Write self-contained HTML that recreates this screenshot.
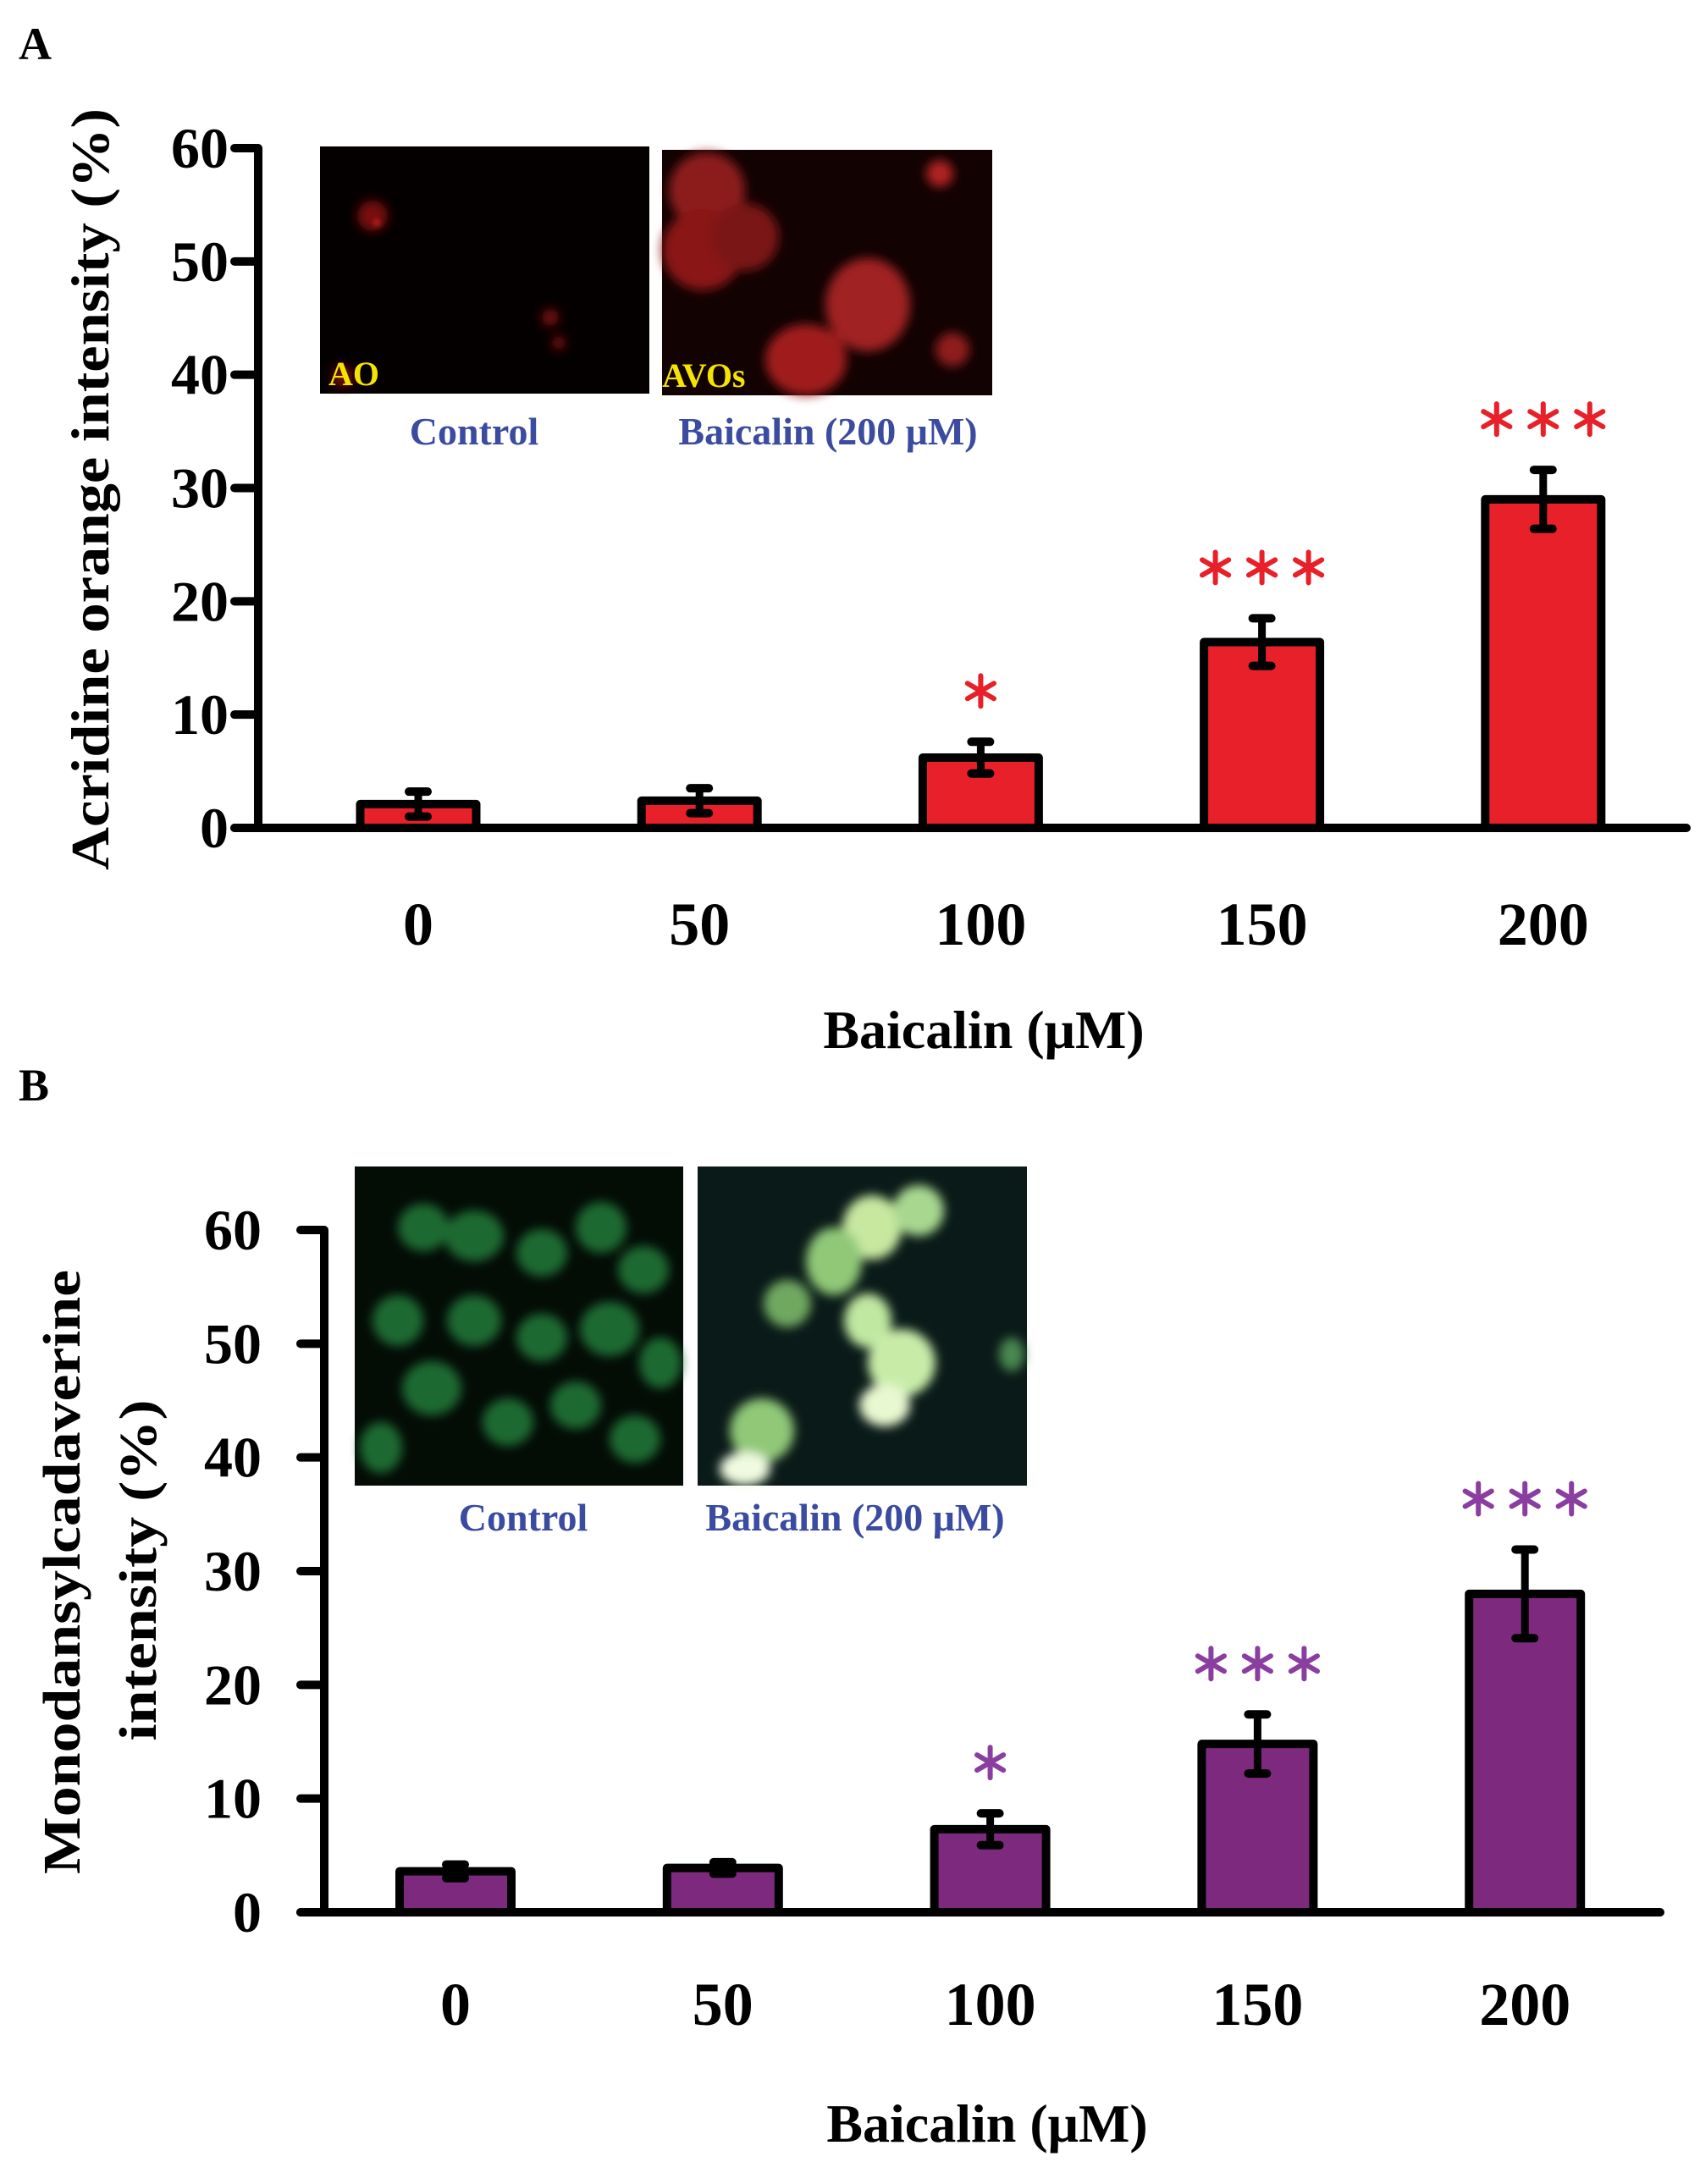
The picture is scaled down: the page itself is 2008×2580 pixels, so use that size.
<!DOCTYPE html>
<html><head><meta charset="utf-8">
<style>
html,body{margin:0;padding:0;background:#fff;}
svg{display:block;}
text{font-family:"Liberation Serif",serif;font-weight:bold;}
</style></head>
<body>
<svg id="fig" width="2008" height="2580" viewBox="0 0 2008 2580" xmlns="http://www.w3.org/2000/svg">
<defs>
<filter id="b6" x="-50%" y="-50%" width="200%" height="200%"><feGaussianBlur stdDeviation="6"/></filter>
<filter id="b3" x="-50%" y="-50%" width="200%" height="200%"><feGaussianBlur stdDeviation="3"/></filter>
</defs>
<rect width="2008" height="2580" fill="#fff"/>
<text x="22" y="70" font-size="54">A</text>
<text x="22" y="1300" font-size="54">B</text>

<!-- Panel A insets -->
<g>
<rect x="378" y="173" width="389" height="292" fill="#050000"/>
<g filter="url(#b6)" fill="#7a1010">
<circle cx="440" cy="255" r="18"/><circle cx="650" cy="375" r="10"/><circle cx="660" cy="405" r="8"/><circle cx="405" cy="445" r="12"/>
</g>
<circle cx="445" cy="263" r="4" fill="#c02020" filter="url(#b3)"/>
<text x="388" y="455" font-size="40" fill="#f5e400">AO</text>
</g>
<g>
<rect x="782" y="177" width="390" height="290" fill="#120202"/>
<g filter="url(#b6)">
<circle cx="835" cy="225" r="45" fill="#8c1a1a"/>
<circle cx="830" cy="295" r="48" fill="#8a1818"/>
<circle cx="880" cy="280" r="40" fill="#7a1515"/>
<ellipse cx="1025" cy="360" rx="50" ry="55" fill="#a02020"/>
<ellipse cx="952" cy="425" rx="48" ry="42" fill="#a01c1c"/>
<circle cx="1110" cy="205" r="16" fill="#b02424"/>
<circle cx="1125" cy="413" r="20" fill="#901c1c"/>
</g>
<text x="782" y="457" font-size="40" fill="#f5e400">AVOs</text>
</g>
<text x="560" y="525" font-size="46" fill="#3a4ba0" text-anchor="middle">Control</text>
<text x="978" y="525" font-size="46" fill="#3a4ba0" text-anchor="middle">Baicalin (200 μM)</text>

<!-- Panel B insets -->
<g>
<rect x="419" y="1378" width="388" height="377" fill="#040c06"/>
<g filter="url(#b6)" fill="#1f6a30">
<ellipse cx="500" cy="1450" rx="30" ry="28"/><ellipse cx="560" cy="1460" rx="35" ry="30"/><ellipse cx="640" cy="1480" rx="30" ry="28"/><ellipse cx="710" cy="1450" rx="30" ry="30"/><ellipse cx="760" cy="1500" rx="30" ry="28"/>
<ellipse cx="470" cy="1560" rx="30" ry="30"/><ellipse cx="560" cy="1560" rx="32" ry="30"/><ellipse cx="640" cy="1580" rx="30" ry="28"/><ellipse cx="720" cy="1570" rx="35" ry="32"/><ellipse cx="780" cy="1610" rx="25" ry="30"/>
<ellipse cx="510" cy="1640" rx="35" ry="32"/><ellipse cx="600" cy="1680" rx="30" ry="28"/><ellipse cx="680" cy="1660" rx="30" ry="28"/><ellipse cx="750" cy="1700" rx="30" ry="28"/><ellipse cx="450" cy="1710" rx="25" ry="30"/>
</g>
</g>
<g>
<rect x="824" y="1378" width="389" height="377" fill="#0a1a18"/>
<g filter="url(#b6)">
<ellipse cx="1030" cy="1450" rx="35" ry="38" fill="#c8e8a0"/>
<ellipse cx="1085" cy="1430" rx="30" ry="30" fill="#a8d890"/>
<ellipse cx="985" cy="1490" rx="33" ry="40" fill="#90c878"/>
<ellipse cx="1025" cy="1560" rx="28" ry="32" fill="#c0e8a0"/>
<ellipse cx="930" cy="1540" rx="28" ry="28" fill="#70a860"/>
<ellipse cx="1065" cy="1610" rx="40" ry="40" fill="#c8eca8"/>
<ellipse cx="1045" cy="1660" rx="30" ry="25" fill="#e8f8d0"/>
<ellipse cx="900" cy="1690" rx="38" ry="38" fill="#90c878"/>
<ellipse cx="880" cy="1735" rx="30" ry="20" fill="#f0fae0"/>
<ellipse cx="1195" cy="1600" rx="15" ry="20" fill="#4a8850"/>
</g>
</g>
<text x="618" y="1808" font-size="46" fill="#3a4ba0" text-anchor="middle">Control</text>
<text x="1010" y="1808" font-size="46" fill="#3a4ba0" text-anchor="middle">Baicalin (200 μM)</text>

<!-- titles -->
<text transform="translate(128,578) rotate(-90)" font-size="64" text-anchor="middle" textLength="900" lengthAdjust="spacingAndGlyphs">Acridine orange intensity (%)</text>
<text x="1162" y="1238" font-size="64" text-anchor="middle">Baicalin (μM)</text>
<text transform="translate(94,1857) rotate(-90)" font-size="62" text-anchor="middle" textLength="714" lengthAdjust="spacingAndGlyphs">Monodansylcadaverine</text>
<text transform="translate(184,1855) rotate(-90)" font-size="62" text-anchor="middle" textLength="403" lengthAdjust="spacingAndGlyphs">intensity (%)</text>
<text x="1166" y="2530" font-size="64" text-anchor="middle">Baicalin (μM)</text>
<g id="plots"></g>
</svg>
<script>
const categories = ["0","50","100","150","200"];
const yTicks = [0,10,20,30,40,50,60];
const aoValues = [2.1, 2.4, 6.2, 16.4, 29.0];
const aoErrors = [1.1, 1.1, 1.4, 2.1, 2.6];
const aoStars = ["", "", "*", "***", "***"];
const mdcValues = [3.6, 3.9, 7.3, 14.8, 28.0];
const mdcErrors = [0.6, 0.5, 1.4, 2.6, 3.9];
const mdcStars = ["", "", "*", "***", "***"];

const NS = "http://www.w3.org/2000/svg";
const root = document.getElementById('plots');
function mk(tag, attrs, parent){ const e=document.createElementNS(NS,tag); for(const k in attrs) e.setAttribute(k,attrs[k]); (parent||root).appendChild(e); return e; }

function drawStar(g, cx, cy, color){
  for(let i=0;i<3;i++){
    const a = Math.PI/2 + i*Math.PI/3, r=18;
    mk('line',{x1:cx-r*Math.cos(a),y1:cy-r*Math.sin(a),x2:cx+r*Math.cos(a),y2:cy+r*Math.sin(a),stroke:color,'stroke-width':6,'stroke-linecap':'round'},g);
  }
}

function panel(p){
  const g = mk('g',{});
  
  
  const y = v => p.y0 - (v - 0) / 60 * (p.y0 - p.y60);
  const x = i => p.x0 + i * p.step;
  p.values.forEach((v,i)=>{
    const r = mk('rect',{x:x(i)-p.bw/2,y:y(v),width:p.bw,height:p.y0-y(v),fill:p.fill,stroke:'#000','stroke-width':10,'stroke-linejoin':'round'},g);
    
    
  });
  p.values.forEach((v,i)=>{
    const e=p.errors[i], eg=mk('g',{},g);
    
    
    mk('line',{x1:x(i),x2:x(i),y1:y(v+e),y2:y(v-e),stroke:'#000','stroke-width':9},eg);
    mk('line',{x1:x(i)-11,x2:x(i)+11,y1:y(v+e),y2:y(v+e),stroke:'#000','stroke-width':10,'stroke-linecap':'round'},eg);
    mk('line',{x1:x(i)-11,x2:x(i)+11,y1:y(v-e),y2:y(v-e),stroke:'#000','stroke-width':10,'stroke-linecap':'round'},eg);
  });
  p.stars.forEach((s,i)=>{
    if(!s) return;
    const sg=mk('g',{},g);
    
    
    const cy = y(p.values[i]+p.errors[i]) - 60;
    for(let k=0;k<s.length;k++) drawStar(sg, x(i)+(k-(s.length-1)/2)*55, cy, p.starColor);
  });
  const ax=mk('line',{x1:p.ax,x2:p.ax,y1:p.y60,y2:p.y0,stroke:'#000','stroke-width':10},g);
   
  const xx=mk('line',{x1:p.ax-28,x2:p.axEnd,y1:p.y0,y2:p.y0,stroke:'#000','stroke-width':10,'stroke-linecap':'round'},g);
   
  yTicks.forEach(t=>{
    mk('line',{x1:p.ax-28,x2:p.ax,y1:y(t),y2:y(t),stroke:'#000','stroke-width':10,'stroke-linecap':'round'},g);
    const tl=mk('text',{x:p.ax-p.tickGap,y:y(t)+23,'font-size':68,'text-anchor':'end'},g);
    tl.textContent=t;
    
    
  });
  categories.forEach((c,i)=>{
    const tl=mk('text',{x:x(i),y:p.xlabY,'font-size':72,'text-anchor':'middle'},g);
    tl.textContent=c;
    
    
  });
}

panel({name:'panel-a-chart',values:aoValues,errors:aoErrors,stars:aoStars,fill:'#e8202a',starColor:'#e8202a',
  ax:305,axEnd:1992,y0:978,y60:175,x0:494,step:332.2,bw:137,tickGap:35,xlabY:1116});
panel({name:'panel-b-chart',values:mdcValues,errors:mdcErrors,stars:mdcStars,fill:'#7d2a7e',starColor:'#8a3ea0',
  ax:383,axEnd:1961,y0:2259,y60:1453,x0:538,step:315.8,bw:132,tickGap:74,xlabY:2392});
</script>
</body></html>
